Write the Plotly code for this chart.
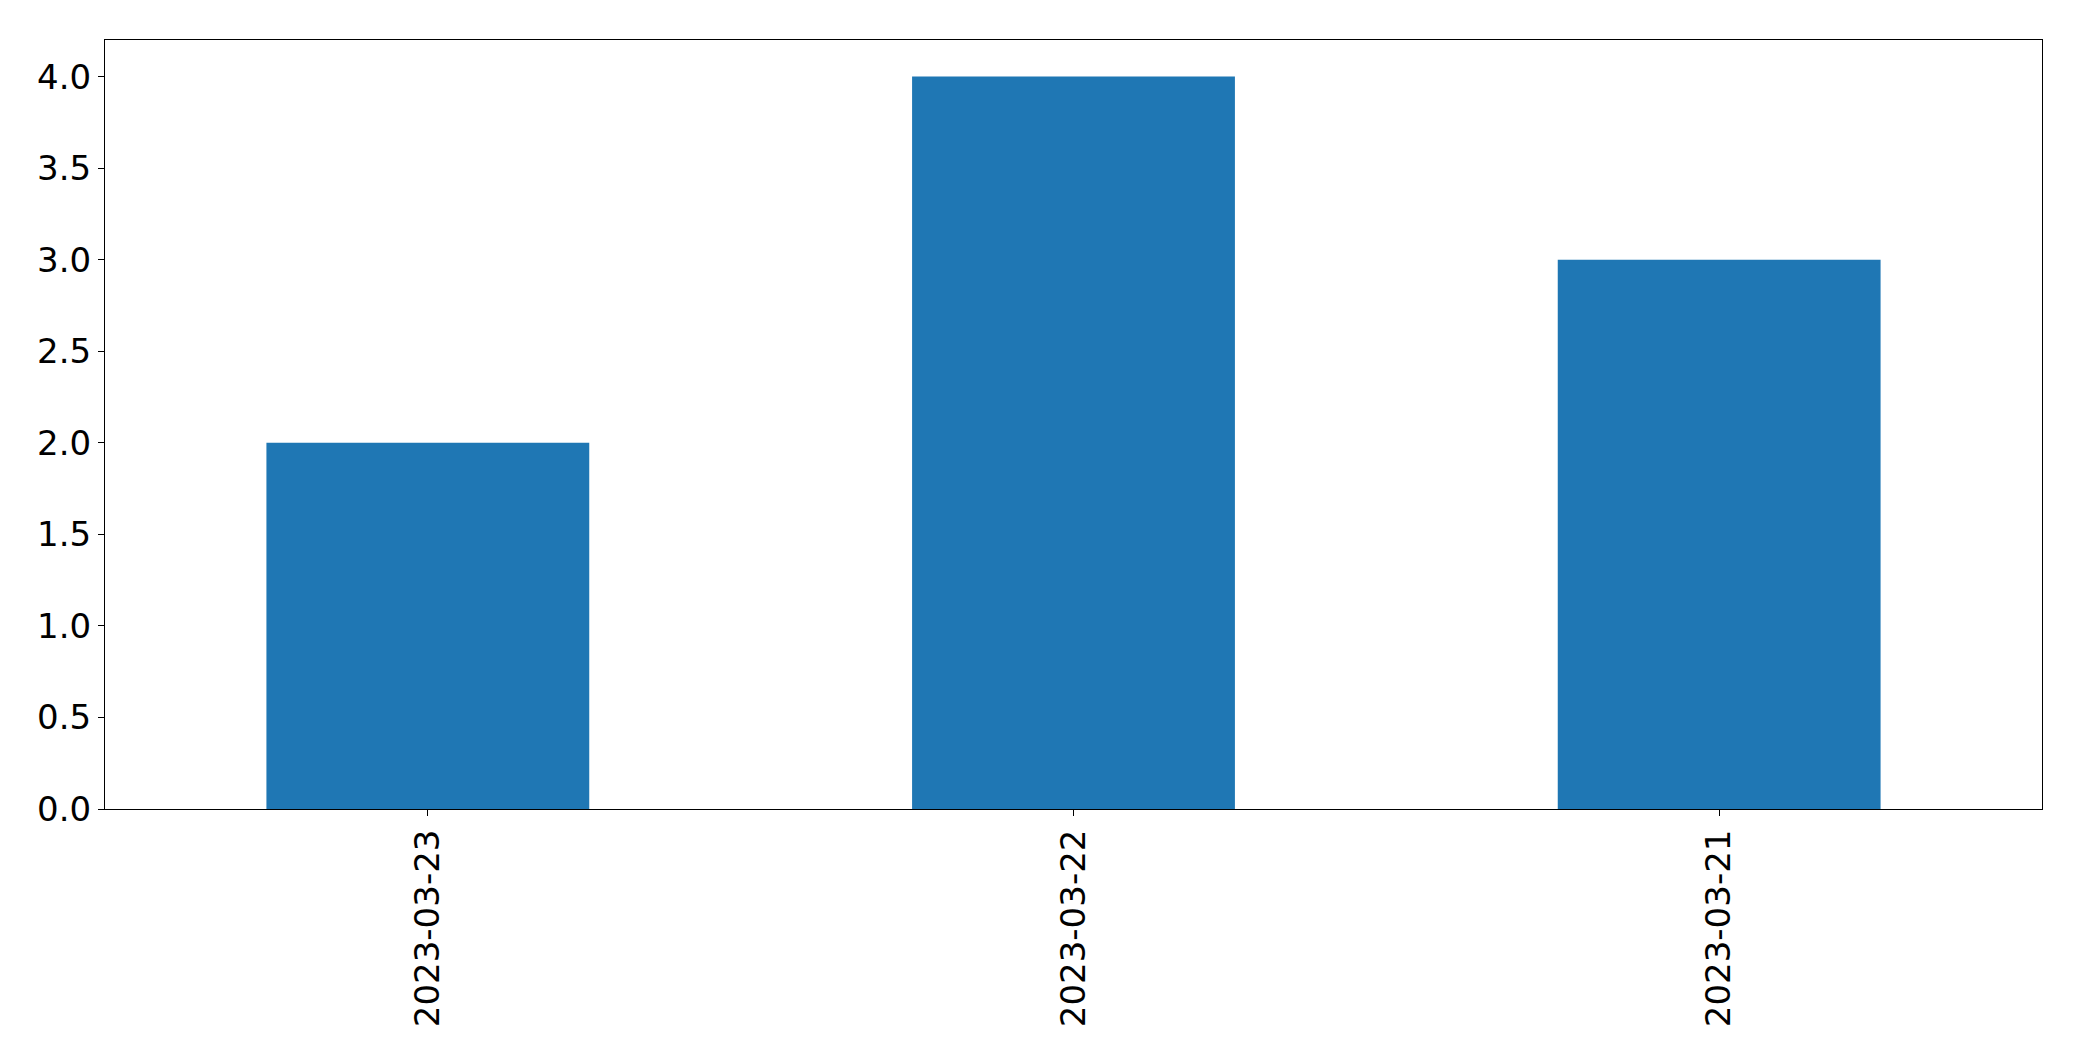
import plotly.graph_objects as go

dates = ["2023-03-23", "2023-03-22", "2023-03-21"]
counts = [2, 4, 3]

fig = go.Figure()
fig.add_trace(go.Bar(
    x=dates,
    y=counts,
    width=0.5,
    marker=dict(color="#1f77b4", line=dict(width=0)),
))

axis_style = dict(
    showline=True,
    linecolor="black",
    linewidth=1,
    mirror=True,
    showgrid=False,
    zeroline=False,
    ticks="outside",
    ticklen=6,
    tickwidth=1,
    tickcolor="black",
    tickfont=dict(family="DejaVu Sans", size=34, color="black"),
)

# page body adds ~8px offset, so margins are nudged to compensate
fig.update_layout(
    width=2082,
    height=1061,
    paper_bgcolor="white",
    plot_bgcolor="white",
    showlegend=False,
    margin=dict(l=97, r=48, t=32, b=260),
    xaxis=dict(type="category", range=[-0.5, 2.5], tickangle=-90, **axis_style),
    yaxis=dict(range=[0, 4.2], dtick=0.5, tickformat=".1f", **axis_style),
)

fig.write_html("out.html")
